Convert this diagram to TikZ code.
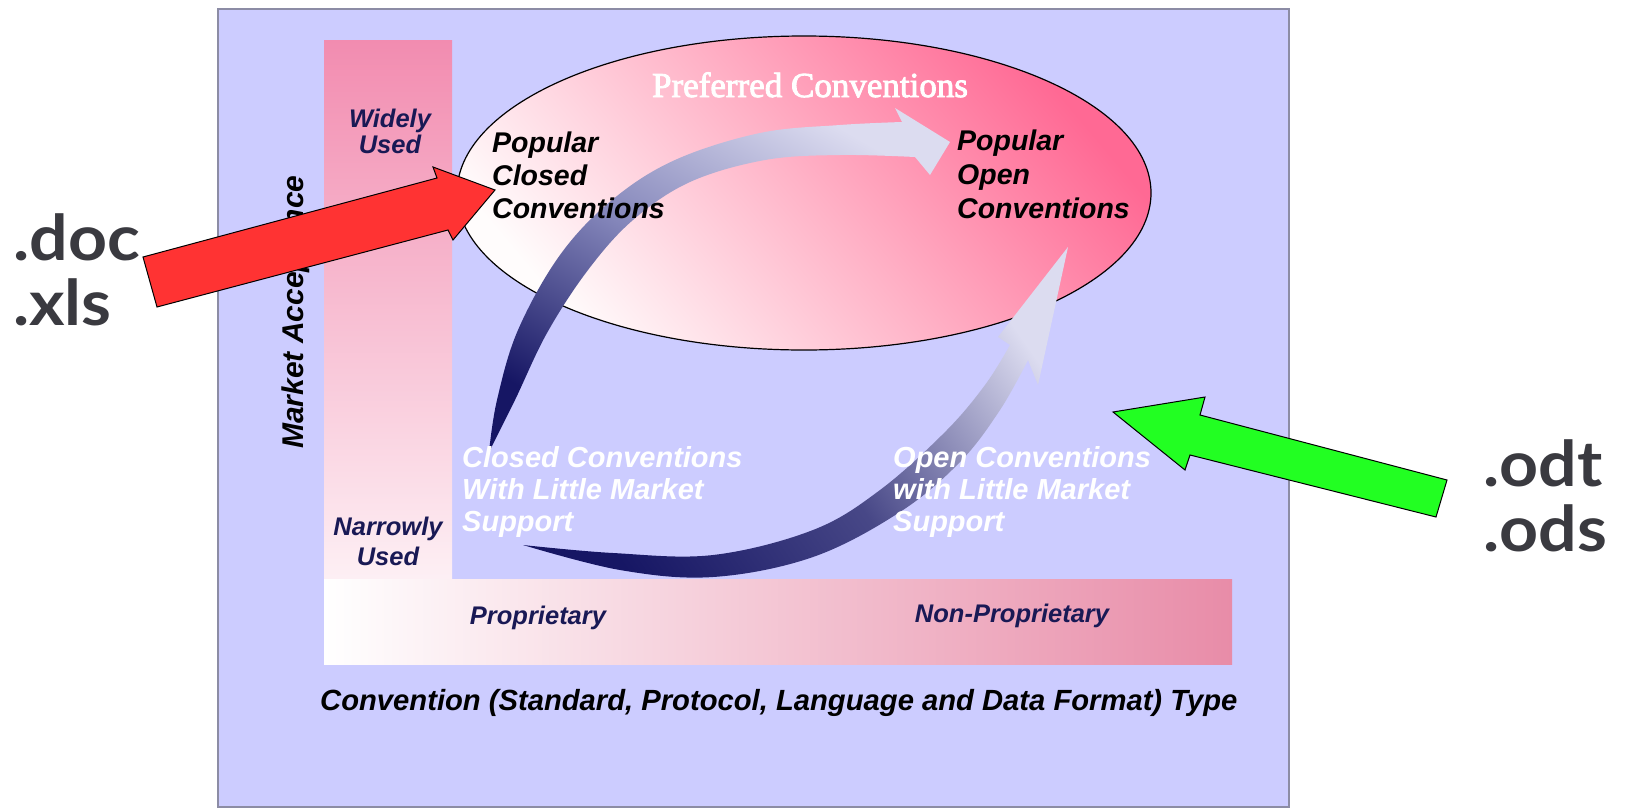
\documentclass[tikz,border=0pt]{standalone}
\usepackage{fontspec}
\setmainfont{Liberation Sans}
\newfontfamily\pcserif{Liberation Serif}[FakeBold=2.5]
\newfontfamily\extfont{Lato}
\definecolor{panelbg}{RGB}{204,204,255}
\definecolor{panelborder}{RGB}{140,140,165}
\definecolor{barpink}{RGB}{242,140,176}
\definecolor{hbarpink}{RGB}{232,140,168}
\definecolor{ellpink}{RGB}{255,105,148}
\definecolor{ellmid}{RGB}{255,180,200}
\definecolor{ellpale}{RGB}{255,252,252}
\definecolor{navy}{RGB}{22,22,100}
\definecolor{swmid}{RGB}{132,134,186}
\definecolor{swlight}{RGB}{220,220,240}
\definecolor{labelnavy}{RGB}{25,25,85}
\definecolor{redarrow}{RGB}{255,51,51}
\definecolor{greenarrow}{RGB}{34,255,34}
\definecolor{exttext}{RGB}{58,58,64}
\tikzset{
  panel/.style={fill=panelbg, draw=panelborder, line width=2pt},
  dtxt/.style={inner sep=0pt, font=\fontsize{28.5}{33}\selectfont\bfseries\itshape},
  wtxt/.style={dtxt, text=white, font=\fontsize{29}{33}\selectfont\bfseries\itshape},
  ntxt/.style={dtxt, text=labelnavy, font=\fontsize{25.5}{28}\selectfont\bfseries\itshape},
  exttxt/.style={inner sep=0pt, text=exttext, xscale=1.08, font=\fontsize{63}{65}\selectfont\extfont\bfseries},
  ptr/.style={draw=black, line width=1pt, line join=miter},
}
\begin{document}
\begin{tikzpicture}[x=1pt,y=-1pt]
\useasboundingbox (0,0) rectangle (1627,809);
% panel
\draw[panel] (218,9) rectangle (1289,807);
% bars
\shade[top color=barpink, bottom color=white] (324,40) rectangle (452,664);
\shade[left color=white, right color=hbarpink] (324,579) rectangle (1232,664);
% ellipse
\shade[draw=black, line width=1.2pt, top color=ellpink, bottom color=ellpale, middle color=ellmid, shading angle=-50]
  (804,193) ellipse [x radius=347, y radius=157];
% upper swoosh
\shade[bottom color=navy, top color=swlight, middle color=swmid, shading angle=-30]
  plot[smooth, tension=0.6] coordinates {(489,452) (497,400) (518,330) (560,255) (612,200) (675,160) (760,133) (840,125) (902,122)}
  -- (895,108) -- (950,142) -- (930,175) -- (915,157)
  -- plot[smooth, tension=0.6] coordinates {(915,157) (840,155) (765,160) (690,182) (633,220) (588,270) (547,333) (515,400) (489,452)} -- cycle;
% lower swoosh
\shade[bottom color=navy, top color=swlight, middle color=navy!75!swlight, shading angle=-55]
  plot[smooth, tension=0.6] coordinates {(523,545) (613,553) (713,555) (813,530) (880,490) (945,432) (985,385) (1010,345)}
  -- (998,337) -- (1068,247) -- (1038,385) -- (1028,360)
  -- plot[smooth, tension=0.6] coordinates {(1028,360) (1000,410) (960,462) (900,512) (813,557) (713,577) (620,570) (523,545)} -- cycle;
% texts
\node[inner sep=0pt, text=white, font=\fontsize{35}{40}\selectfont\pcserif, anchor=base] (pref) at (810,97) {Preferred Conventions};
\node[dtxt, anchor=base west] (pc1) at (492,152) {Popular};
\node[dtxt, anchor=base west] (pc2) at (492,185) {Closed};
\node[dtxt, anchor=base west] (pc3) at (492,218) {Conventions};
\node[dtxt, anchor=base west] (po1) at (957,150) {Popular};
\node[dtxt, anchor=base west] (po2) at (957,184) {Open};
\node[dtxt, anchor=base west] (po3) at (957,218) {Conventions};
\node[ntxt, anchor=base] (wu1) at (390,127) {Widely};
\node[ntxt, anchor=base] (wu2) at (390,153) {Used};
\node[ntxt, anchor=base] (nu1) at (388,535) {Narrowly};
\node[ntxt, anchor=base] (nu2) at (388,565) {Used};
\node[wtxt, anchor=base west] (cl1) at (462,467) {Closed Conventions};
\node[wtxt, anchor=base west] (cl2) at (462,499) {With Little Market};
\node[wtxt, anchor=base west] (cl3) at (462,531) {Support};
\node[wtxt, anchor=base west] (op1) at (893,467) {Open Conventions};
\node[wtxt, anchor=base west] (op2) at (893,499) {with Little Market};
\node[wtxt, anchor=base west] (op3) at (893,531) {Support};
\node[ntxt, anchor=base] (prop) at (538,624) {Proprietary};
\node[ntxt, anchor=base] (nprop) at (1012,622) {Non-Proprietary};
\node[dtxt, font=\fontsize{29.2}{33}\selectfont\bfseries\itshape, anchor=base west] (xaxis) at (320,710) {Convention (Standard, Protocol, Language and Data Format) Type};
\node[dtxt, font=\fontsize{30}{33}\selectfont\bfseries\itshape, rotate=90, anchor=base] (yaxis) at (303,312) {Market Acceptance};
% pointer arrows
\draw[ptr, fill=redarrow] (143,257) -- (437,178) -- (433,167) -- (495,190) -- (453,240) -- (448,230) -- (157,307) -- cycle;
\draw[ptr, fill=greenarrow] (1113,412) -- (1205,397) -- (1200,415) -- (1447,480) -- (1436,517) -- (1190,455) -- (1185,470) -- cycle;
% outside labels
\node[exttxt, anchor=base west] (doc) at (13,260) {.doc};
\node[exttxt, anchor=base west] (xls) at (13,325) {.xls};
\node[exttxt, anchor=base west] (odt) at (1483,486) {.odt};
\node[exttxt, anchor=base west] (ods) at (1483,551) {.ods};
\end{tikzpicture}
\end{document}
